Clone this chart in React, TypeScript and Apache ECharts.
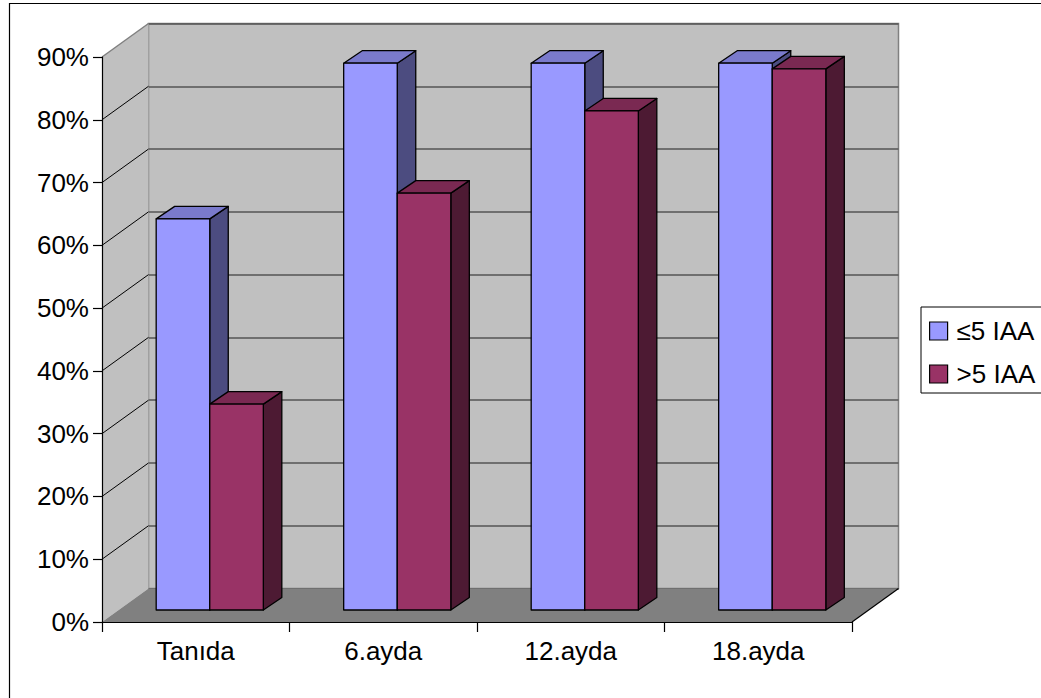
import React, { useEffect, useRef } from "react";
import * as echarts from "echarts";

const categories = ["Tanıda", "6.ayda", "12.ayda", "18.ayda"];
const seriesNames = ["≤5 IAA", ">5 IAA"];
const lowValues = [62.3, 87.1, 87.1, 87.1];
const highValues = [32.8, 66.4, 79.5, 86.2];
const yTicks = [0, 10, 20, 30, 40, 50, 60, 70, 80, 90];

const frontColors = ["#9999FF", "#993366"];
const topColors = ["#7A7ACC", "#7A2952"];
const sideColors = ["#4C4C80", "#4D1A33"];

const WALL_DX = 46.5;
const WALL_DY = -33.5;
const BAR_DX = 14;
const BAR_DY = -12;
const DEPTH_DX = 18.5;
const DEPTH_DY = -12.5;
const FONT = "Liberation Sans, Arial, sans-serif";

function plotBounds(api: any) {
  const band = api.size([1, 0])[0];
  const a = api.coord([0, 0]);
  const b = api.coord([categories.length - 1, yTicks[yTicks.length - 1]]);
  return { left: a[0] - band / 2, right: b[0] + band / 2, y0: a[1], yTop: b[1], band };
}

function makeBarRender(idx: number) {
  return (params: any, api: any) => {
    const cat = api.value(0);
    const val = api.value(1);
    const base = api.coord([cat, 0]);
    const peak = api.coord([cat, val]);
    const band = api.size([1, 0])[0];
    const w = band / 3.5;
    const cx = base[0] + BAR_DX;
    const x0 = idx === 0 ? cx - w : cx;
    const x1 = x0 + w;
    const yb = base[1] + BAR_DY;
    const yt = peak[1] + BAR_DY;
    const st = { stroke: "#000", lineWidth: 1.3, lineJoin: "round" };
    return {
      type: "group",
      children: [
        {
          type: "polygon",
          shape: { points: [[x1, yb], [x1 + DEPTH_DX, yb + DEPTH_DY], [x1 + DEPTH_DX, yt + DEPTH_DY], [x1, yt]] },
          style: { fill: sideColors[idx], ...st },
        },
        {
          type: "polygon",
          shape: { points: [[x0, yt], [x1, yt], [x1 + DEPTH_DX, yt + DEPTH_DY], [x0 + DEPTH_DX, yt + DEPTH_DY]] },
          style: { fill: topColors[idx], ...st },
        },
        {
          type: "rect",
          shape: { x: x0, y: yt, width: w, height: yb - yt },
          style: { fill: frontColors[idx], ...st },
        },
      ],
    };
  };
}

function wallsRender(params: any, api: any) {
  const p = plotBounds(api);
  return {
    type: "group",
    children: [
      {
        type: "polygon",
        shape: { points: [[p.left, p.y0], [p.left + WALL_DX, p.y0 + WALL_DY], [p.left + WALL_DX, p.yTop + WALL_DY], [p.left, p.yTop]] },
        style: { fill: "#C0C0C0" },
      },
      {
        type: "line",
        shape: { x1: p.left, y1: p.yTop, x2: p.left + WALL_DX, y2: p.yTop + WALL_DY },
        style: { stroke: "#808080", lineWidth: 1.5 },
      },
      {
        type: "polygon",
        shape: { points: [[p.left, p.y0], [p.right, p.y0], [p.right + WALL_DX, p.y0 + WALL_DY], [p.left + WALL_DX, p.y0 + WALL_DY]] },
        style: { fill: "#808080" },
      },
      {
        type: "line",
        shape: { x1: p.right, y1: p.y0, x2: p.right + WALL_DX, y2: p.y0 + WALL_DY },
        style: { stroke: "#000", lineWidth: 1.2 },
      },
    ],
  };
}

function diagRender(params: any, api: any) {
  const t = api.value(1);
  const band = api.size([1, 0])[0];
  const c = api.coord([0, t]);
  const x = c[0] - band / 2;
  return {
    type: "line",
    shape: { x1: x, y1: c[1], x2: x + WALL_DX, y2: c[1] + WALL_DY },
    style: { stroke: "#000", lineWidth: 1 },
  };
}

export default function App() {
  const ref = useRef<HTMLDivElement>(null);
  useEffect(() => {
    if (!ref.current) return;
    const chart = echarts.init(ref.current, null, { renderer: "svg" });
    const innerTicks = yTicks.slice(1, yTicks.length - 1);
    chart.setOption({
      animation: false,
      backgroundColor: "#fff",
      textStyle: { fontFamily: FONT },
      grid: [
        { left: 102, top: 57, width: 750, height: 565, show: false },
        {
          left: 102 + WALL_DX,
          top: 57 + WALL_DY,
          width: 750,
          height: 565,
          show: true,
          backgroundColor: "#C0C0C0",
          borderColor: "#808080",
          borderWidth: 1.5,
        },
      ],
      xAxis: [
        {
          gridIndex: 0,
          type: "category",
          data: categories,
          boundaryGap: true,
          z: 5,
          axisLine: { lineStyle: { color: "#000", width: 1.2 } },
          axisTick: { show: true, length: 10, lineStyle: { color: "#000", width: 1.2 } },
          axisLabel: { color: "#000", fontSize: 26, fontFamily: FONT, margin: 16 },
          splitLine: { show: false },
        },
        {
          gridIndex: 1,
          type: "value",
          min: 0,
          max: 1,
          axisLine: { show: false },
          axisTick: { show: false },
          axisLabel: { show: false },
          splitLine: { show: false },
        },
      ],
      yAxis: [
        {
          gridIndex: 0,
          type: "value",
          min: 0,
          max: 90,
          interval: 10,
          z: 5,
          axisLine: { show: true, lineStyle: { color: "#000", width: 1.2 } },
          axisTick: { show: true, length: 9, lineStyle: { color: "#000", width: 1.2 } },
          axisLabel: {
            color: "#000",
            fontSize: 26,
            fontFamily: FONT,
            margin: 13,
            padding: [5, 0, 0, 0],
            formatter: "{value}%",
          },
          splitLine: { show: false },
        },
        {
          gridIndex: 1,
          type: "value",
          min: 0,
          max: 90,
          interval: 10,
          axisLine: { show: false },
          axisTick: { show: false },
          axisLabel: { show: false },
          splitLine: { show: true, lineStyle: { color: "#555", width: 1.5 } },
        },
      ],
      legend: {
        orient: "vertical",
        left: 921,
        top: 307,
        icon: "rect",
        itemWidth: 18,
        itemHeight: 18,
        itemGap: 17,
        padding: [11, 10, 6, 8],
        backgroundColor: "#fff",
        borderColor: "#000",
        borderWidth: 1,
        textStyle: { color: "#000", fontSize: 26, fontFamily: FONT, padding: [0, 0, 0, 4] },
        data: seriesNames.map((n, i) => ({
          name: n,
          itemStyle: { color: frontColors[i], borderColor: "#000", borderWidth: 1.2 },
        })),
      },
      graphic: [
        {
          type: "rect",
          shape: { x: 9.5, y: 3.5, width: 1100, height: 800 },
          style: { fill: "none", stroke: "#000", lineWidth: 1.2 },
          silent: true,
        },
      ],
      series: [
        {
          type: "custom",
          name: "walls",
          xAxisIndex: 0,
          yAxisIndex: 0,
          z: 1,
          silent: true,
          renderItem: wallsRender,
          data: [[0, 0]],
          encode: { x: 0, y: 1 },
        },
        {
          type: "custom",
          name: "wallGrid",
          xAxisIndex: 0,
          yAxisIndex: 0,
          z: 1,
          silent: true,
          renderItem: diagRender,
          data: innerTicks.map((t) => [0, t]),
          encode: { x: 0, y: 1 },
        },
        {
          type: "custom",
          name: seriesNames[0],
          xAxisIndex: 0,
          yAxisIndex: 0,
          z: 3,
          itemStyle: { color: frontColors[0] },
          renderItem: makeBarRender(0),
          data: lowValues.map((v, i) => [i, v]),
          encode: { x: 0, y: 1 },
        },
        {
          type: "custom",
          name: seriesNames[1],
          xAxisIndex: 0,
          yAxisIndex: 0,
          z: 3,
          itemStyle: { color: frontColors[1] },
          renderItem: makeBarRender(1),
          data: highValues.map((v, i) => [i, v]),
          encode: { x: 0, y: 1 },
        },
      ],
    });
    return () => chart.dispose();
  }, []);
  return (
    <div
      ref={ref}
      style={{ position: "fixed", left: 0, top: 0, width: 1041, height: 698, background: "#fff" }}
    />
  );
}
